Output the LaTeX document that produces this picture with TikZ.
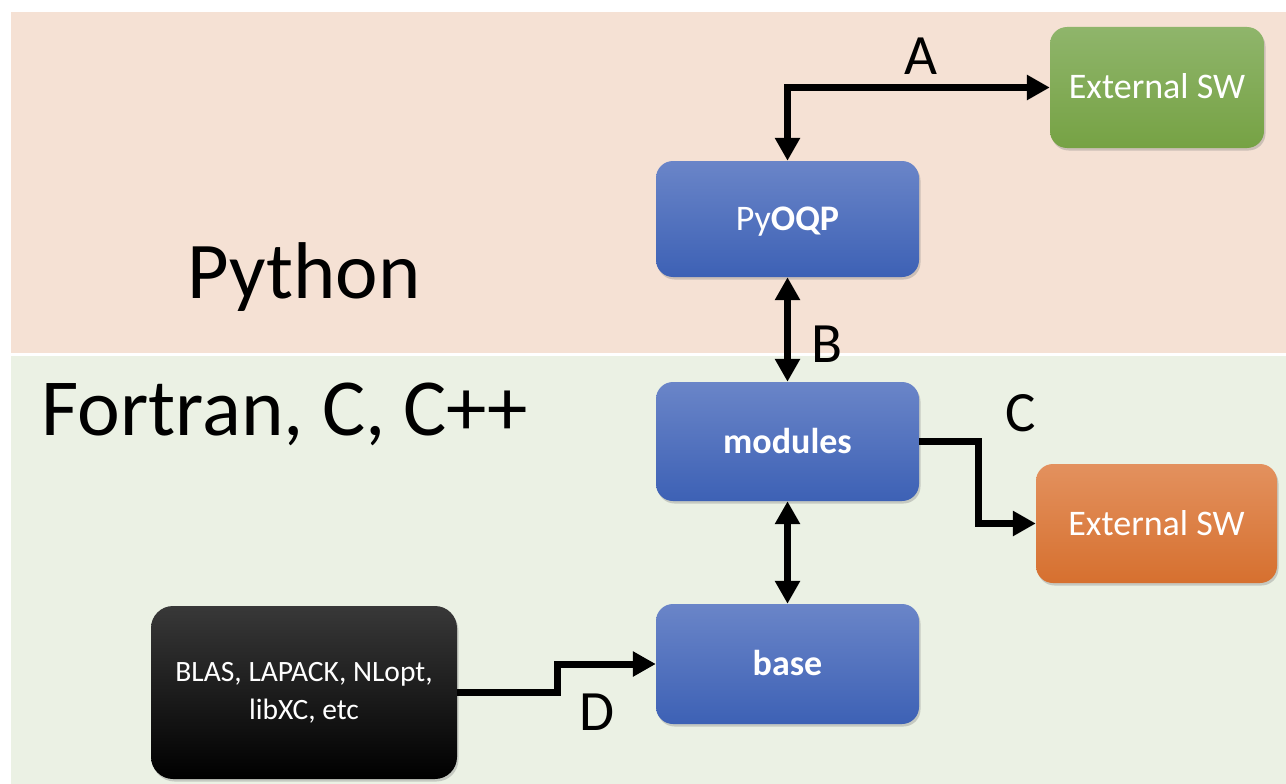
\documentclass[tikz,border=0pt]{standalone}
\usepackage{fontspec}
\setmainfont{Carlito}
\usetikzlibrary{arrows.meta,shadows,calc}
\definecolor{peach}{RGB}{245,225,212}
\definecolor{lgreen}{RGB}{235,241,228}
\definecolor{bluetop}{RGB}{106,133,200}
\definecolor{bluebot}{RGB}{61,97,181}
\definecolor{greentop}{RGB}{143,181,107}
\definecolor{greenbot}{RGB}{118,162,68}
\definecolor{orangetop}{RGB}{227,145,94}
\definecolor{orangebot}{RGB}{214,112,47}
\tikzset{
  boxbase/.style={rectangle, rounded corners=17pt, draw=none, text=white,
    drop shadow={shadow xshift=1.5pt, shadow yshift=-2.5pt, opacity=0.35},
    font=\fontsize{36}{42}\selectfont, text height=23pt, text depth=0pt,
    inner sep=0pt},
  bluebox/.style={boxbase, top color=bluetop, bottom color=bluebot,
    minimum width=263pt, minimum height=116pt},
  greenbox/.style={boxbase, top color=greentop, bottom color=greenbot},
  orangebox/.style={boxbase, top color=orangetop, bottom color=orangebot},
  blackbox/.style={rectangle, rounded corners=22pt, text=white,
    top color=black!78, bottom color=black,
    drop shadow={shadow xshift=1.5pt, shadow yshift=-2.5pt, opacity=0.35},
    font=\fontsize{29.5}{38}\selectfont, align=center, inner sep=0pt},
  conn/.style={line width=7pt, draw=black, miter limit=10},
  tipend/.style={-{Triangle[length=23pt,width=24pt]}},
  tipboth/.style={{Triangle[length=23pt,width=24pt]}-{Triangle[length=23pt,width=24pt]}},
  letter/.style={font=\fontsize{57}{60}\selectfont, text height=37pt, text depth=0pt, inner sep=0pt},
  langlabel/.style={inner sep=0pt, anchor=base}
}
\begin{document}
\begin{tikzpicture}[x=1pt,y=-1pt]
  \fill[white] (0,0) rectangle (1286,784);
  \useasboundingbox (0,0) rectangle (1286,784);
  \fill[peach] (11,12) rectangle (1286,353);
  \fill[lgreen] (11,356) rectangle (1286,784);

  \node[langlabel, font=\fontsize{80.5}{82}\selectfont] (py) at (304,298) {Python};
  \node[langlabel, font=\fontsize{81}{83}\selectfont] (ft) at (285,435) {Fortran, C, C++};

  \node[bluebox] (pyoqp) at (787.5,219) {Py\textbf{OQP}};
  \node[bluebox, minimum height=119pt] (modules) at (787.5,441.5) {\textbf{modules}};
  \node[bluebox, minimum height=120pt] (base) at (787.5,664) {\textbf{base}};
  \node[greenbox, minimum width=214pt, minimum height=121pt] (ext1) at (1157,87.5) {External SW};
  \node[orangebox, minimum width=241pt, minimum height=119pt] (ext2) at (1156.5,523.5) {External SW};
  \node[blackbox, minimum width=306pt, minimum height=173pt] (libs) at (304,692.5) {BLAS, LAPACK, NLopt,\\libXC, etc};

  \coordinate (cx) at (978,0);
  \coordinate (dx) at (557,0);

  \draw[conn, tipboth] (ext1.west) -| (pyoqp.north);
  \draw[conn, tipboth] (pyoqp.south) -- (modules.north);
  \draw[conn, tipboth] (modules.south) -- (base.north);
  \draw[conn, tipend] (modules.east) -- (modules.east -| cx) |- (ext2.west);
  \draw[conn, tipend] (libs.east) -- (libs.east -| dx) |- (base.west);

  \node[letter] (la) at (921,56.5) {A};
  \node[letter] (lb) at (826.5,343.5) {B};
  \node[letter] (lc) at (1021,412.5) {C};
  \node[letter] (ld) at (597,711.5) {D};
\end{tikzpicture}
\end{document}
